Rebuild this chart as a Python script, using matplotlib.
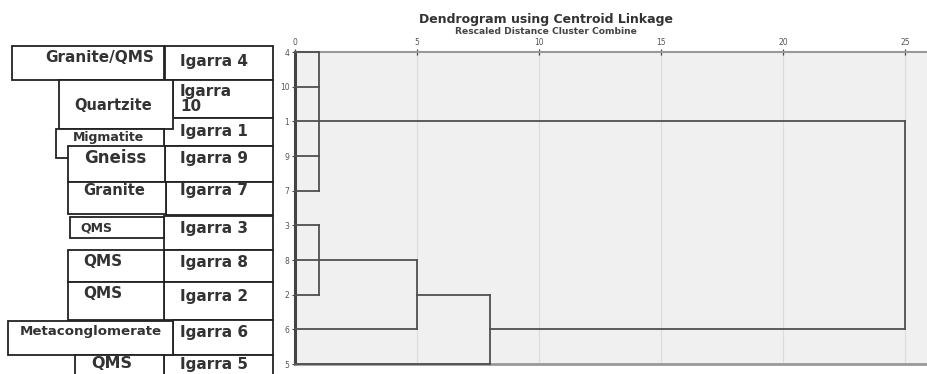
#!/usr/bin/env python3
import matplotlib
matplotlib.use("Agg")
import matplotlib.pyplot as plt
from matplotlib.patches import Rectangle

# --- data -------------------------------------------------------------
leaf_labels = ["4", "10", "1", "9", "7", "3", "8", "2", "6", "5"]
rock_types = ["Granite/QMS", "Quartzite", "Migmatite", "Gneiss", "Granite",
              "QMS", "QMS", "QMS", "Metaconglomerate", "QMS"]
samples = ["Igarra 4", "Igarra\n10", "Igarra 1", "Igarra 9", "Igarra 7",
           "Igarra 3", "Igarra 8", "Igarra 2", "Igarra 6", "Igarra 5"]

# merges (node ids: leaves 0-9, new clusters 10, 11, ...)
merge_children = [[0, 1, 2, 3, 4], [5, 6, 7], [11, 8], [12, 9], [10, 13]]
merge_heights = [1.0, 1.0, 5.0, 8.0, 25.0]
x_ticks = [0, 5, 10, 15, 20, 25]

# --- layout of the hand-drawn table (pixels: x0, x1, y0, y1) ----------
sample_boxes = [(165, 273, 46, 80), (173, 273, 80, 118), (164, 273, 118, 146),
                (165, 273, 146, 182), (166, 273, 182, 215), (164, 273, 216, 250),
                (164, 273, 250, 282), (164, 273, 282, 320), (173, 273, 320, 355),
                (164, 273, 355, 385)]
sample_text_y = [61, 99, 131, 158, 190, 228, 263, 296, 333, 365]
rock_boxes = [(12, 164, 46, 80), (59, 173, 80, 129), (56, 164, 129, 158),
              (68, 165, 146, 182), (68, 166, 182, 214), (70, 164, 217, 238),
              (68, 164, 250, 282), (68, 164, 282, 320), (8, 173, 321, 355),
              (75, 164, 355, 385)]
rock_text_xy = [(100, 57), (113, 105), (108, 137), (115, 158), (114, 190),
                (96, 228), (103, 262), (103, 294), (91, 332), (112, 364)]
rock_sizes = [11, 10.5, 9, 12, 10.5, 9, 11, 11, 9.6, 11.5]

W, H = 927, 374
fig = plt.figure(figsize=(W / 100, H / 100), dpi=100)

# --- dendrogram -------------------------------------------------------
ax = fig.add_axes([295 / W, 1 - 364 / H, 1 - 295 / W, (364 - 52) / H])
ax.set_facecolor("#f0f0f0")
ax.set_xlim(0, 25.9)
ax.set_ylim(len(leaf_labels) - 1, 0)

for v in x_ticks[1:]:
    ax.axvline(v, color="#dcdcdc", lw=0.8, zorder=0)

line_kw = dict(color="#505050", lw=1.3, clip_on=False, zorder=3)
pos_x = {i: 0.0 for i in range(len(leaf_labels))}
pos_y = {i: float(i) for i in range(len(leaf_labels))}
for k, (children, h) in enumerate(zip(merge_children, merge_heights)):
    ys = [pos_y[c] for c in children]
    for c in children:
        ax.plot([pos_x[c], h], [pos_y[c], pos_y[c]], **line_kw)
    ax.plot([h, h], [min(ys), max(ys)], **line_kw)
    node = len(leaf_labels) + k
    pos_x[node] = h
    pos_y[node] = (min(ys) + max(ys)) / 2

ax.spines["right"].set_visible(False)
ax.spines["left"].set_color("#444444")
ax.spines["left"].set_linewidth(2.2)
ax.spines["top"].set_color("#999999")
ax.spines["top"].set_linewidth(1.5)
ax.spines["bottom"].set_color("#999999")
ax.spines["bottom"].set_linewidth(2)

ax.xaxis.tick_top()
ax.set_xticks(x_ticks)
ax.tick_params(axis="x", direction="inout", length=5, width=0.9, colors="#444444",
               labelsize=5.5, labelcolor="#555555", pad=1)
ax.set_yticks(range(len(leaf_labels)))
ax.set_yticklabels(leaf_labels)
ax.tick_params(axis="y", length=2, width=0.8, colors="#444444",
               labelsize=5.5, labelcolor="#555555", pad=2)

fig.text(546 / W, 1 - 19 / H, "Dendrogram using Centroid Linkage",
         ha="center", va="center", fontsize=9, fontweight="bold", color="#333333")
fig.text(546 / W, 1 - 32 / H, "Rescaled Distance Cluster Combine",
         ha="center", va="center", fontsize=6.6, fontweight="bold", color="#444444")

# --- table of samples -------------------------------------------------
tax = fig.add_axes([0, 0, 285 / W, 1])
tax.set_xlim(0, 285)
tax.set_ylim(H, 0)
tax.axis("off")

box_kw = dict(facecolor="white", edgecolor="#222222", lw=1.3, clip_on=False)
for i, (x0, x1, y0, y1) in enumerate(sample_boxes):
    tax.add_patch(Rectangle((x0, y0), x1 - x0, y1 - y0, zorder=1 + i * 0.01, **box_kw))
for i, (x0, x1, y0, y1) in enumerate(rock_boxes):
    tax.add_patch(Rectangle((x0, y0), x1 - x0, y1 - y0, zorder=2 + i * 0.01, **box_kw))

for name, y in zip(samples, sample_text_y):
    tax.text(180, y, name, ha="left", va="center", fontsize=11, fontweight="bold",
             color="#333333", linespacing=1.05, zorder=5)
for name, (x, y), fs in zip(rock_types, rock_text_xy, rock_sizes):
    tax.text(x, y, name, ha="center", va="center", fontsize=fs, fontweight="bold",
             color="#333333", zorder=5)

fig.savefig("out.png", dpi=100)
print("Saved: out.png")
